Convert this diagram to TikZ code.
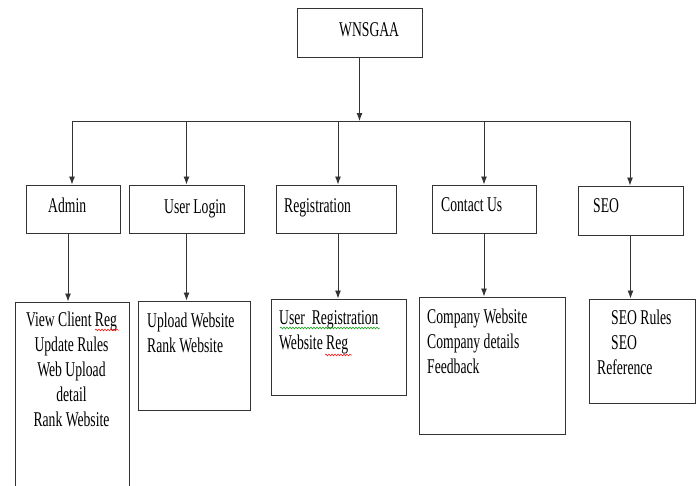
\documentclass[tikz,border=0pt]{standalone}
\usepackage{fontspec}
\usepackage{tikz}
\usetikzlibrary{arrows.meta,decorations.pathmorphing}

\newfontfamily\sqfont[FakeStretch=0.65]{Liberation Serif}

\tikzset{
	box/.style={draw=black!80, line width=1pt, inner sep=0pt},
	arr/.style={draw=black!80, line width=0.9pt, -{Latex[length=8pt,width=6pt]}},
	txt/.style={anchor=base west, inner sep=0pt, align=left, font=\sqfont\fontsize{21}{25}\selectfont},
	spell/.style={line width=0.5pt, decorate, decoration={snake, amplitude=0.9pt, segment length=3pt}}
}

\begin{document}
\begin{tikzpicture}[x=1pt,y=-1pt]
				\useasboundingbox (0,0) rectangle (699,485);
				
				% dobozok
				\node[box, minimum width=125, minimum height=49] (top) at (359.5,32.5) {};
				\node[box, minimum width=94, minimum height=48] (admin) at (73,209) {};
				\node[box, minimum width=115, minimum height=48] (login) at (186.5,209) {};
				\node[box, minimum width=120, minimum height=48] (reg) at (336,209) {};
				\node[box, minimum width=104, minimum height=48] (contact) at (484,209) {};
				\node[box, minimum width=105, minimum height=49] (seo) at (630.5,210.5) {};
				
				\node[box, minimum width=114, minimum height=218] (adminD) at (72,411) {};
				\node[box, minimum width=112, minimum height=109] (loginD) at (194,355.5) {};
				\node[box, minimum width=135, minimum height=96] (regD) at (338.5,347) {};
				\node[box, minimum width=146, minimum height=137] (contactD) at (492,365.5) {};
				\node[box, minimum width=106, minimum height=104] (seoD) at (642,351) {};
				
				% sin
				\coordinate (busL) at (72,121);
				\coordinate (busR) at (630,121);
				\draw[black!80, line width=1pt] (busL) -- (busR);
				
				% nyilak
				\draw[arr] (top.south) -- (top.south |- busL);
				\draw[arr] (busL) -- (busL |- admin.north);
				\draw[arr] (login.north |- busL) -- (login.north);
				\draw[arr] ([xshift=2]reg.north |- busL) -- ([xshift=2]reg.north);
				\draw[arr] (contact.north |- busL) -- (contact.north);
				\draw[arr] (busR) -- (busR |- seo.north);
				
				\draw[arr] ([xshift=-5]admin.south) -- ([xshift=-5]admin.south |- adminD.north);
				\draw[arr] (login.south) -- (login.south |- loginD.north);
				\draw[arr] ([xshift=2]reg.south) -- ([xshift=2]reg.south |- regD.north);
				\draw[arr] (contact.south) -- (contact.south |- contactD.north);
				\draw[arr] (seo.south) -- (seo.south |- seoD.north);
				
				% feliratok (tobbsoros: utolso sor alapvonala)
				\node[txt] (tTop) at (339,36) {WNSGAA};
				\node[txt] (tAdmin) at (48,212) {Admin};
				\node[txt] (tLogin) at (164,213) {User Login};
				\node[txt] (tReg) at (284,212) {Registration};
				\node[txt] (tContact) at (441,211) {Contact Us};
				\node[txt] (tSeo) at (593,212) {SEO};
				
				\node[txt, anchor=base, align=center] (tAdminD) at (71.5,426) {View Client Reg\\Update Rules\\Web Upload\\detail\\Rank Website};
				\node[txt] (tLoginD) at (147,352) {Upload Website\\Rank Website};
				\node[txt] (tRegD) at (279,349) {User\ \ Registration\\Website Reg};
				\node[txt] (tContactD) at (427,373) {Company Website\\Company details\\Feedback};
				\node[txt] (tSeoD) at (597,374) {\hspace*{14pt}SEO Rules\\\hspace*{14pt}SEO\\Reference};
				
				% hullamvonalak
				\draw[spell, red] (95,330) -- (119,330);
				\draw[spell, green!60!black] (280,328) -- (380,328);
				\draw[spell, red] (325,355) -- (352,355);
				
			\end{tikzpicture}
\end{document}
